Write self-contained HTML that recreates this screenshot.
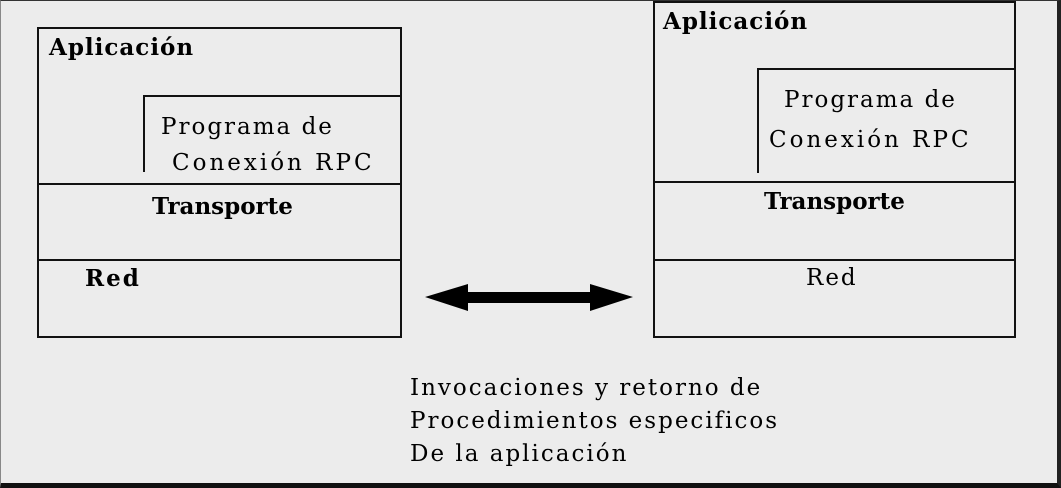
<!DOCTYPE html>
<html><head><meta charset="utf-8"><style>
html,body{margin:0;padding:0}
body{width:1061px;height:488px;background:#ececec;position:relative;overflow:hidden;font-family:"DejaVu Serif","Liberation Serif",serif;color:#000}
.b{position:absolute;border:2px solid #111;box-sizing:border-box}
.l{position:absolute;background:#111}
.t{position:absolute;font-size:23px;white-space:nowrap;line-height:1;letter-spacing:2px}
</style></head><body>
<div class="b" style="left:0;top:0;width:1061px;height:488px;border-width:1px 4px 5px 1px;border-color:#333 #222 #111 #888"></div>
<!-- left stack -->
<div class="b" style="left:37px;top:27px;width:365px;height:311px"></div>
<div class="l" style="left:37px;top:183px;width:365px;height:2px"></div>
<div class="l" style="left:37px;top:259px;width:365px;height:2px"></div>
<div class="l" style="left:143px;top:95px;width:259px;height:2px"></div>
<div class="l" style="left:143px;top:95px;width:2px;height:77px"></div>
<div class="t" style="left:49px;top:36px;font-weight:bold;letter-spacing:1px">Aplicación</div>
<div class="t" style="left:161px;top:116px">Programa de</div>
<div class="t" style="left:172px;top:152px;letter-spacing:3px">Conexión RPC</div>
<div class="t" style="left:152px;top:195px;font-weight:bold;letter-spacing:0">Transporte</div>
<div class="t" style="left:85px;top:267px;font-weight:bold">Red</div>
<!-- right stack -->
<div class="b" style="left:653px;top:1px;width:363px;height:337px"></div>
<div class="l" style="left:653px;top:181px;width:363px;height:2px"></div>
<div class="l" style="left:653px;top:259px;width:363px;height:2px"></div>
<div class="l" style="left:757px;top:68px;width:259px;height:2px"></div>
<div class="l" style="left:757px;top:68px;width:2px;height:105px"></div>
<div class="t" style="left:663px;top:10px;font-weight:bold;letter-spacing:1px">Aplicación</div>
<div class="t" style="left:784px;top:89px">Programa de</div>
<div class="t" style="left:769px;top:129px;letter-spacing:3px">Conexión RPC</div>
<div class="t" style="left:764px;top:190px;font-weight:bold;letter-spacing:0">Transporte</div>
<div class="t" style="left:806px;top:267px">Red</div>
<!-- arrow -->
<svg style="position:absolute;left:0;top:0" width="1061" height="488">
<polygon fill="#000" points="425,297 468,284 468,292 590,292 590,284 633,297 590,311 590,303 468,303 468,311"/>
</svg>
<div class="t" style="left:410px;top:377px">Invocaciones y retorno de</div>
<div class="t" style="left:410px;top:410px">Procedimientos especificos</div>
<div class="t" style="left:410px;top:443px">De la aplicación</div>
</body></html>
